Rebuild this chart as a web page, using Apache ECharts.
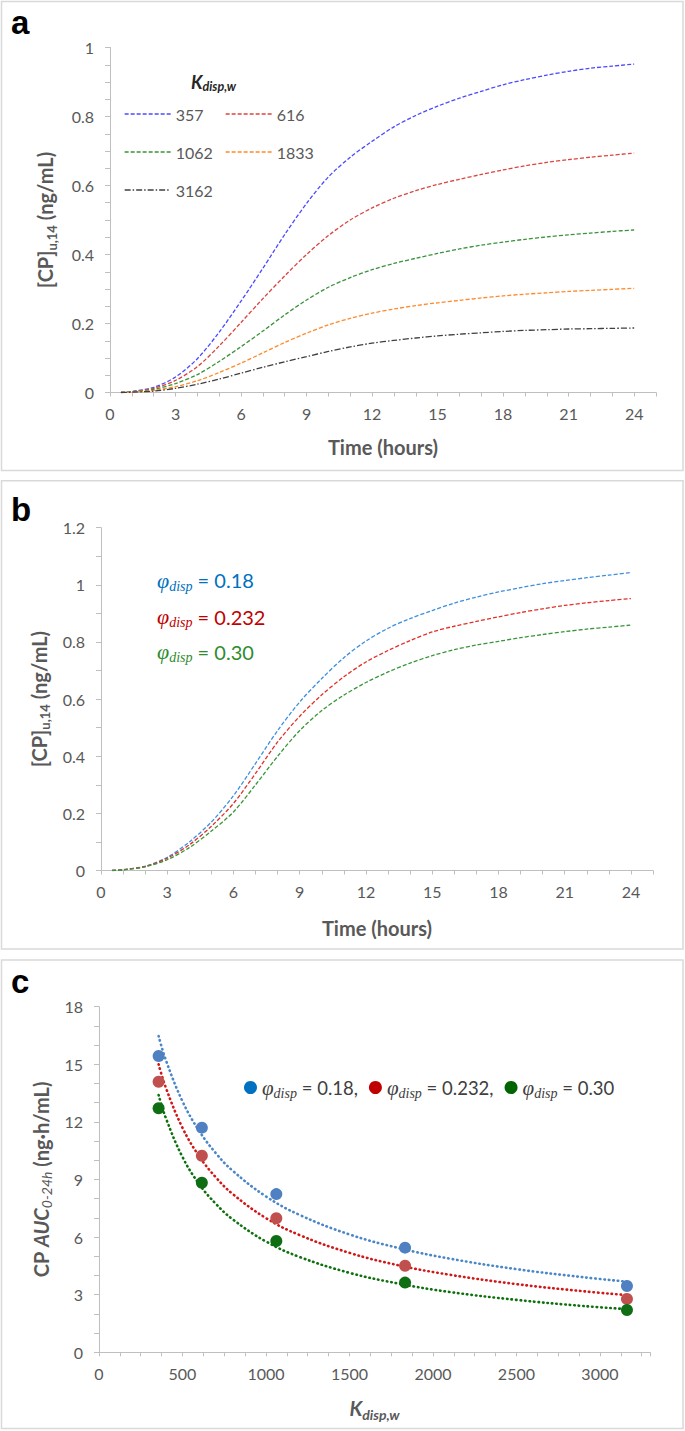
<!DOCTYPE html>
<html><head><meta charset="utf-8">
<script src="https://cdn.jsdelivr.net/npm/echarts@6/dist/echarts.min.js"></script>
<style>html,body{margin:0;padding:0;background:#fff}#c{width:685px;height:1431px}</style>
</head><body><div id="c"></div>
<script>
// ---------- DATA ----------
const hours = [0.5,1,2,3,4,5,6,7,8,9,10,11,12,13,14,15,16,17,18,19,20,21,22,23,24];
// panel a: [CP]u,14 vs time for different K_disp,w
const kLabels = ['357','616','1062','1833','3162'];
const concK357  = [0,0.003,0.015,0.045,0.098,0.175,0.265,0.36,0.458,0.548,0.625,0.682,0.728,0.77,0.803,0.83,0.853,0.873,0.892,0.907,0.92,0.931,0.94,0.946,0.952];
const concK616  = [0,0.002,0.012,0.035,0.075,0.135,0.203,0.272,0.338,0.4,0.455,0.5,0.535,0.563,0.585,0.603,0.618,0.632,0.645,0.657,0.667,0.675,0.682,0.688,0.694];
const concK1062 = [0,0.002,0.009,0.026,0.052,0.09,0.133,0.178,0.225,0.268,0.305,0.333,0.356,0.374,0.389,0.403,0.416,0.427,0.436,0.444,0.451,0.457,0.462,0.467,0.471];
const concK1833 = [0,0.001,0.006,0.017,0.034,0.058,0.085,0.115,0.145,0.172,0.196,0.215,0.23,0.242,0.252,0.26,0.267,0.274,0.28,0.285,0.289,0.293,0.296,0.299,0.302];
const concK3162 = [0,0.001,0.004,0.012,0.024,0.039,0.056,0.073,0.089,0.104,0.119,0.132,0.143,0.151,0.158,0.164,0.169,0.173,0.177,0.18,0.182,0.184,0.185,0.186,0.187];
// panel b: [CP]u,14 vs time for different phi_disp
const phiLabels = ['0.18','0.232','0.30'];
const concPhi018  = [0,0.003,0.015,0.046,0.1,0.17,0.262,0.375,0.49,0.59,0.672,0.745,0.803,0.848,0.882,0.91,0.936,0.957,0.975,0.99,1.004,1.015,1.025,1.034,1.043];
const concPhi0232 = [0,0.003,0.014,0.043,0.09,0.155,0.235,0.34,0.45,0.54,0.615,0.678,0.73,0.77,0.805,0.835,0.855,0.872,0.888,0.903,0.916,0.928,0.937,0.945,0.952];
const concPhi030  = [0,0.002,0.013,0.038,0.08,0.138,0.205,0.3,0.4,0.49,0.56,0.614,0.658,0.695,0.726,0.752,0.773,0.789,0.802,0.815,0.826,0.836,0.845,0.852,0.859];
// panel c: AUC vs K_disp,w
const kValues = [357,616,1062,1833,3162];
const auc018  = [15.43,11.70,8.24,5.45,3.45];
const auc0232 = [14.09,10.24,6.98,4.51,2.78];
const auc030  = [12.71,8.83,5.80,3.63,2.20];
const trendK    = [357,400,500,600,700,800,1000,1200,1500,1800,2100,2500,2900,3162];
const trend018  = [16.47,15.23,13.07,11.53,10.37,9.46,8.12,7.16,6.14,5.42,4.88,4.33,3.91,3.68];
const trend0232 = [15.0,13.79,11.69,10.21,9.11,8.25,6.99,6.11,5.18,4.52,4.04,3.55,3.18,2.98];
const trend030  = [13.4,12.21,10.17,8.76,7.73,6.93,5.77,4.97,4.14,3.57,3.14,2.73,2.41,2.25];

// ---------- STYLE ----------
const SANS = 'Lato, "Open Sans", "Liberation Sans", sans-serif';
const SERIF = '"Liberation Serif", "DejaVu Serif", serif';
const GRAY = '#595959';
const AXIS = '#bfbfbf';

const pair = (xs, ys) => xs.map((x, i) => [x, ys[i]]);

function labelFmt(every, maxLabel) {
  return v => {
    const k = v / every;
    if (Math.abs(k - Math.round(k)) < 1e-6 && v <= maxLabel + 1e-9) return String(+v.toFixed(2));
    return '';
  };
}
function axis(gridIndex, min, max, interval, every, maxLabel, isX, extra) {
  return Object.assign({
    type: 'value', gridIndex, min, max, interval,
    splitLine: { show: false },
    axisLine: { show: true, lineStyle: { color: AXIS, width: 1 } },
    axisTick: { show: true, length: isX ? 4 : 5, lineStyle: { color: AXIS, width: 1 } },
    axisLabel: { formatter: labelFmt(every, maxLabel), color: GRAY, fontFamily: SANS, fontSize: 16, margin: isX ? 13 : 16, showMinLabel: true, showMaxLabel: true },
    nameLocation: 'middle'
  }, extra || {});
}
const titleRich = {
  b:  { fontFamily: SANS, fontWeight: 'bold', fontSize: 20, lineHeight: 26, color: GRAY },
  bi: { fontFamily: SANS, fontWeight: 'bold', fontStyle: 'italic', fontSize: 20, lineHeight: 26, color: GRAY },
  s:  { fontFamily: SANS, fontWeight: 'bold', fontSize: 13, lineHeight: 10, verticalAlign: 'bottom', color: GRAY },
  si: { fontFamily: SANS, fontStyle: 'italic', fontSize: 14, lineHeight: 10, verticalAlign: 'bottom', color: GRAY },
  sbi:{ fontFamily: SANS, fontWeight: 'bold', fontStyle: 'italic', fontSize: 14, lineHeight: 10, verticalAlign: 'bottom', color: GRAY }
};

const colA = ['#4a4aff', '#d9463f', '#3a933a', '#ff8a2a', '#404040'];
const dashA = [[4,2],[4,2],[4,2],[4,2],[6,2,1.5,2]];
const dataA = [concK357, concK616, concK1062, concK1833, concK3162];
const colB = ['#3d8fe0', '#e0302a', '#3a963a'];
const txtB = ['#0070c0', '#c00000', '#2e8b2e'];
const dataB = [concPhi018, concPhi0232, concPhi030];
const colCpt = ['#4f81c2', '#c0504d', '#0f6e14'];
const colCleg = ['#0070c0', '#c00000', '#006400'];
const colCtr = ['#4a86c8', '#d01818', '#0c700c'];
const aucC = [auc018, auc0232, auc030];
const trC = [trend018, trend0232, trend030];

const series = [];
kLabels.forEach((k, i) => series.push({
  name: k, type: 'line', xAxisIndex: 0, yAxisIndex: 0, smooth: 0.3, symbol: 'none',
  data: pair(hours, dataA[i]), lineStyle: { color: colA[i], width: 1.3, type: dashA[i] }, itemStyle: { color: colA[i] }
}));
phiLabels.forEach((p, i) => series.push({
  name: 'b' + p, type: 'line', xAxisIndex: 1, yAxisIndex: 1, smooth: 0.3, symbol: 'none',
  data: pair(hours, dataB[i]), lineStyle: { color: colB[i], width: 1.3, type: [4,2] }, itemStyle: { color: colB[i] }
}));
phiLabels.forEach((p, i) => series.push({
  name: 'trend' + p, type: 'line', xAxisIndex: 2, yAxisIndex: 2, smooth: 0.4, symbol: 'none', z: 2,
  data: pair(trendK, trC[i]), lineStyle: { color: colCtr[i], width: 2.6, type: [0.5, 4], cap: 'round' }
}));
phiLabels.forEach((p, i) => series.push({
  name: p, type: 'scatter', xAxisIndex: 2, yAxisIndex: 2, symbolSize: 12, z: 3,
  data: pair(kValues, aucC[i]), itemStyle: { color: colCpt[i], opacity: 1 }
}));

const legendA = {
  orient: 'vertical', padding: 0, itemWidth: 46, itemHeight: 14, itemGap: 22,
  textStyle: { fontFamily: SANS, fontSize: 16, color: GRAY, lineHeight: 14 },
  itemStyle: { opacity: 0 }, lineStyle: { width: 1.3 }, selectedMode: false
};

function bLegendText(i) {
  const c = txtB[i];
  return {
    text: '{p|φ}{s|disp}{t| = ' + phiLabels[i] + '}',
    rich: {
      p: { fontFamily: SERIF, fontStyle: 'italic', fontSize: 22, lineHeight: 26, fill: c },
      s: { fontFamily: SERIF, fontStyle: 'italic', fontSize: 14, lineHeight: 10, verticalAlign: 'bottom', fill: c },
      t: { fontFamily: SANS, fontSize: 20, lineHeight: 26, fill: c }
    },
    fill: c, verticalAlign: 'middle', align: 'left'
  };
}

const option = {
  animation: false,
  backgroundColor: '#fff',
  grid: [
    { left: 110, top: 47.5, width: 546, height: 345 },
    { left: 101, top: 527.7, width: 552, height: 342.8 },
    { left: 99, top: 1006.7, width: 551, height: 345.6 }
  ],
  xAxis: [
    axis(0, 0, 25, 1, 3, 24, true, { name: '{b|Time (hours)}', nameGap: 41, nameTextStyle: { rich: titleRich } }),
    axis(1, 0, 25, 1, 3, 24, true, { name: '{b|Time (hours)}', nameGap: 44, nameTextStyle: { rich: titleRich } }),
    axis(2, 0, 3300, 125, 500, 3000, true, { name: '{bi|K}{sbi|disp,w}', nameGap: 43, nameTextStyle: { rich: titleRich } })
  ],
  yAxis: [
    axis(0, 0, 1, 0.05, 0.2, 1, false, { name: '{b|[CP]}{s|u,14}{b| (ng/mL)}', nameGap: 52, nameRotate: 90, nameTextStyle: { rich: titleRich } }),
    axis(1, 0, 1.2, 0.1, 0.2, 1.2, false, { name: '{b|[CP]}{s|u,14}{b| (ng/mL)}', nameGap: 49, nameRotate: 90, nameTextStyle: { rich: titleRich } }),
    axis(2, 0, 18, 1, 3, 18, false, { name: '{b|CP }{bi|AUC}{si|0-24h}{b| (ng·h/mL)}', nameGap: 45, nameRotate: 90, nameTextStyle: { rich: titleRich } })
  ],
  legend: [
    Object.assign({}, legendA, { left: 124, top: 106, data: ['357', '1062', '3162'] }),
    Object.assign({}, legendA, { left: 225, top: 106, data: ['616', '1833'] }),
    {
      orient: 'horizontal', left: 244, top: 1077, padding: 0, itemGap: 11, icon: 'circle',
      itemWidth: 13, itemHeight: 13, selectedMode: false,
      data: phiLabels.map((p, i) => ({ name: p, itemStyle: { color: colCleg[i] } })),
      formatter: name => '{p|φ}{s|disp}{t| = ' + name + (name === '0.30' ? '' : ',') + '}',
      textStyle: {
        color: '#404040',
        rich: {
          p: { fontFamily: SERIF, fontStyle: 'italic', fontSize: 21, lineHeight: 26, color: '#404040' },
          s: { fontFamily: SERIF, fontStyle: 'italic', fontSize: 14, lineHeight: 10, verticalAlign: 'bottom', color: '#404040' },
          t: { fontFamily: SANS, fontSize: 18.5, lineHeight: 26, color: '#404040' }
        }
      }
    }
  ],
  graphic: [
    { type: 'rect', shape: { x: 1.5, y: 1.5, width: 681.5, height: 469 }, style: { fill: 'none', stroke: '#d9d9d9', lineWidth: 1.5 }, silent: true },
    { type: 'rect', shape: { x: 1.5, y: 480.7, width: 681.5, height: 468.3 }, style: { fill: 'none', stroke: '#d9d9d9', lineWidth: 1.5 }, silent: true },
    { type: 'rect', shape: { x: 1.5, y: 960, width: 681.5, height: 468.5 }, style: { fill: 'none', stroke: '#d9d9d9', lineWidth: 1.5 }, silent: true },
    { type: 'text', x: 11, y: 22, style: { text: 'a', fontFamily: '"Liberation Sans", Arial, sans-serif', fontWeight: 'bold', fontSize: 33, fill: '#000', verticalAlign: 'middle' } },
    { type: 'text', x: 11, y: 509, style: { text: 'b', fontFamily: '"Liberation Sans", Arial, sans-serif', fontWeight: 'bold', fontSize: 33, fill: '#000', verticalAlign: 'middle' } },
    { type: 'text', x: 11, y: 981, style: { text: 'c', fontFamily: '"Liberation Sans", Arial, sans-serif', fontWeight: 'bold', fontSize: 33, fill: '#000', verticalAlign: 'middle' } },
    { type: 'text', x: 191, y: 82, style: {
      text: '{k|K}{s|disp,w}', verticalAlign: 'middle', align: 'left',
      rich: {
        k: { fontFamily: SANS, fontWeight: 'bold', fontStyle: 'italic', fontSize: 18, lineHeight: 22, fill: '#262626' },
        s: { fontFamily: SANS, fontWeight: 'bold', fontStyle: 'italic', fontSize: 12.5, lineHeight: 9, verticalAlign: 'bottom', fill: '#262626' }
      } } },
    { type: 'text', x: 157, y: 580, style: bLegendText(0) },
    { type: 'text', x: 157, y: 616.7, style: bLegendText(1) },
    { type: 'text', x: 157, y: 651.7, style: bLegendText(2) }
  ],
  series
};
const chart = echarts.init(document.getElementById('c'), null, { renderer: 'svg', width: 685, height: 1431 });
chart.setOption(option);
</script>
</body></html>
